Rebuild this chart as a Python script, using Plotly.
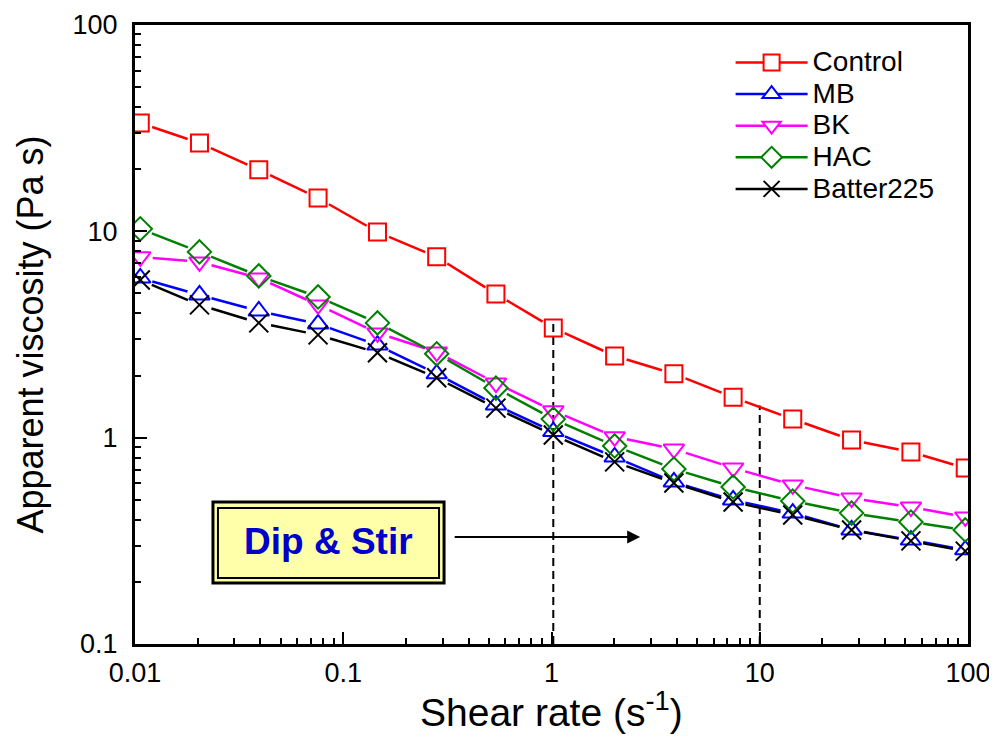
import math
import plotly.graph_objects as go

shear_rate = [0.0106, 0.0204, 0.0393, 0.0757, 0.146, 0.281, 0.541, 1.02,
              2.01, 3.87, 7.45, 14.4, 27.6, 53.2, 97.0]
control = [33.5, 26.8, 19.9, 14.5, 9.93, 7.52, 4.97, 3.40,
           2.49, 2.04, 1.57, 1.23, 0.975, 0.853, 0.713]
mb = [5.94, 4.92, 4.11, 3.56, 2.81, 2.04, 1.44, 1.07,
      0.806, 0.610, 0.499, 0.431, 0.357, 0.319, 0.286]
bk = [7.52, 7.11, 5.94, 4.40, 3.22, 2.60, 1.84, 1.35,
      1.01, 0.881, 0.713, 0.590, 0.510, 0.461, 0.413]
hac = [10.28, 7.95, 6.08, 4.81, 3.60, 2.55, 1.74, 1.23,
       0.912, 0.705, 0.577, 0.493, 0.431, 0.390, 0.357]
batter225 = [5.81, 4.40, 3.60, 3.15, 2.58, 1.95, 1.39, 1.03,
             0.763, 0.603, 0.488, 0.422, 0.357, 0.316, 0.282]

guide_x = [1.02, 10.0]
guide_top = [3.7, 1.43]

x_ticks = [0.01, 0.1, 1, 10, 100]
x_ticktext = ["0.01", "0.1", "1", "10", "100"]
y_ticks = [0.1, 1, 10, 100]
y_ticktext = ["0.1", "1", "10", "100"]

series = [
    ("Control", control, "#FF0000", "square-open", 17),
    ("MB", mb, "#0000FF", "triangle-up-open", 18),
    ("BK", bk, "#FF00FF", "triangle-down-open", 18),
    ("HAC", hac, "#008000", "diamond-open", 18),
    ("Batter225", batter225, "#000000", "x-thin-open", 19),
]


def gapped(xs, ys, gap=0.06):
    gx, gy = [], []
    for i in range(len(xs) - 1):
        lx1, ly1 = math.log10(xs[i]), math.log10(ys[i])
        lx2, ly2 = math.log10(xs[i + 1]), math.log10(ys[i + 1])
        dx, dy = lx2 - lx1, ly2 - ly1
        L = math.hypot(dx, dy)
        if L <= 2 * gap:
            continue
        ux, uy = dx / L, dy / L
        gx += [10 ** (lx1 + ux * gap), 10 ** (lx2 - ux * gap), None]
        gy += [10 ** (ly1 + uy * gap), 10 ** (ly2 - uy * gap), None]
    return gx, gy


def minor_ticks(lo_exp, hi_exp):
    return [m * 10 ** e for e in range(lo_exp, hi_exp) for m in range(2, 10)]


fig = go.Figure()

for gxv, top in zip(guide_x, guide_top):
    fig.add_trace(go.Scatter(x=[gxv, gxv], y=[0.1, top], mode="lines",
                             line=dict(color="black", width=2, dash="8px,5px"),
                             showlegend=False, hoverinfo="skip"))

for name, vals, color, sym, size in series:
    gx, gy = gapped(shear_rate, vals)
    fig.add_trace(go.Scatter(x=gx, y=gy, mode="lines",
                             line=dict(color=color, width=2.5),
                             showlegend=False, hoverinfo="skip"))
    fig.add_trace(go.Scatter(x=shear_rate, y=vals, mode="markers", name=name,
                             marker=dict(symbol=sym, size=size, color=color,
                                         line=dict(color=color, width=2)),
                             showlegend=False))
    fig.add_trace(go.Scatter(x=[None], y=[None], mode="lines+markers",
                             name='<span style="font-size:28px">%s</span>' % name,
                             line=dict(color=color, width=2.5),
                             marker=dict(symbol=sym.replace("-open", ""), size=size,
                                         color="white",
                                         line=dict(color=color, width=2)),
                             showlegend=True))

axis_common = dict(
    type="log", showline=True, linecolor="black", linewidth=3, mirror=True,
    ticks="inside", ticklen=12, tickwidth=2, tickcolor="black",
    showgrid=False, zeroline=False, automargin=False,
    tickfont=dict(family="Liberation Sans, Arial", size=27, color="black"),
)

fig.update_xaxes(**axis_common, range=[-2, 2], tickmode="array", tickvals=x_ticks, ticktext=x_ticktext,
                 minor=dict(ticks="inside", ticklen=6, tickwidth=2, tickcolor="black",
                            showgrid=False, tickmode="array", tickvals=minor_ticks(-2, 2)),
                 ticklabelstandoff=3)
fig.update_yaxes(**axis_common, range=[-1, 2], tickmode="array", tickvals=y_ticks, ticktext=y_ticktext,
                 minor=dict(ticks="inside", ticklen=6, tickwidth=2, tickcolor="black",
                            showgrid=False, tickmode="array", tickvals=minor_ticks(-1, 2)),
                 ticklabelstandoff=9)

# axis titles
fig.add_annotation(xref="paper", yref="paper", x=0.5, y=-0.106, xanchor="center", yanchor="middle",
                   text="Shear rate (s<sup>-1</sup>)", showarrow=False,
                   font=dict(family="Liberation Sans, Arial", size=39, color="black"))
fig.add_annotation(xref="paper", yref="paper", x=-0.126, y=0.5, xanchor="center", yanchor="middle",
                   text="Apparent viscosity (Pa s)", showarrow=False, textangle=-90,
                   font=dict(family="Liberation Sans, Arial", size=36, color="black"))

# Dip & Stir box (double border)
fig.add_shape(type="rect", xref="paper", yref="paper", x0=0.0936, x1=0.371, y0=0.0985, y1=0.2294,
              line=dict(color="black", width=3), fillcolor="#FFFFAA", layer="above")
fig.add_shape(type="rect", xref="paper", yref="paper", x0=0.0996, x1=0.365, y0=0.1066, y1=0.2197,
              line=dict(color="black", width=2), fillcolor="rgba(0,0,0,0)", layer="above")
fig.add_annotation(xref="paper", yref="paper", x=0.232, y=0.166, xanchor="center", yanchor="middle",
                   text="<b>Dip &amp; Stir</b>", showarrow=False,
                   font=dict(family="Liberation Sans, Arial", size=37, color="#0000CC"))
# arrow
fig.add_annotation(xref="paper", yref="paper", x=0.6065, y=0.1729, ax=-187, ay=0,
                   axref="pixel", ayref="pixel", text="", showarrow=True,
                   arrowhead=2, arrowsize=1.3, arrowwidth=2, arrowcolor="black")

fig.update_layout(
    width=997, height=746,
    margin=dict(l=127, r=37, t=17, b=110, autoexpand=False),
    plot_bgcolor="white", paper_bgcolor="white",
    font=dict(family="Liberation Sans, Arial", color="black"),
    legend=dict(x=0.715, y=0.973, xanchor="left", yanchor="top",
                font=dict(family="Liberation Sans, Arial", size=22, color="black"),
                bgcolor="rgba(0,0,0,0)", itemwidth=72, tracegroupgap=0),
)

fig.write_html("out.html")
